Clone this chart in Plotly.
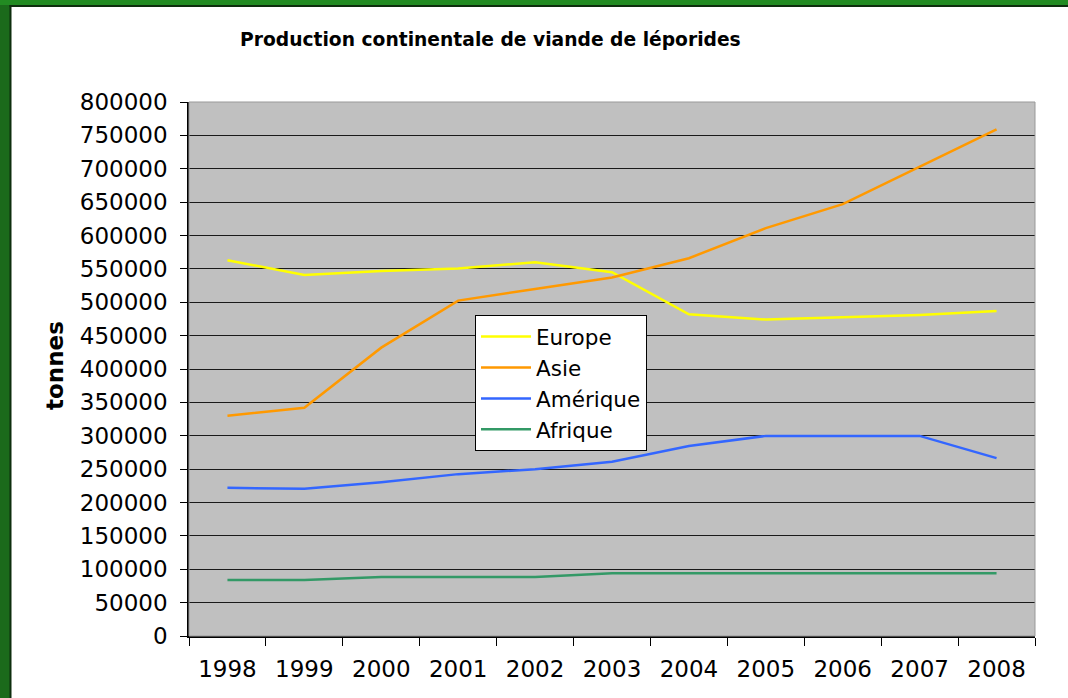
import plotly.graph_objects as go

years = ["1998", "1999", "2000", "2001", "2002", "2003", "2004", "2005", "2006", "2007", "2008"]
europe = [563000, 541000, 547000, 550500, 560000, 545000, 482000, 474000, 477500, 481000, 487000]
asie = [330000, 342000, 432000, 502500, 520000, 537000, 566000, 611000, 647000, 703000, 759000]
amerique = [222000, 220500, 230500, 242500, 250000, 261000, 284500, 299800, 299800, 299800, 266500]
afrique = [84000, 84000, 88500, 88500, 88500, 94000, 94000, 94000, 94000, 94000, 94000]

series = [
    ("Europe", europe, "#FFFF00"),
    ("Asie", asie, "#FF9900"),
    ("Amérique", amerique, "#3366FF"),
    ("Afrique", afrique, "#339966"),
]

W, H = 1068, 698
L, R, T, B = 189, 33, 102, 62
pw, ph = W - L - R, H - T - B

fig = go.Figure()
for name, vals, col in series:
    fig.add_trace(go.Scatter(x=years, y=vals, name=name, mode="lines",
                             line=dict(color=col, width=2.5)))

def px_x(p):
    return (p - L) / pw

def px_y(p):
    return (H - B - p) / ph

font = "DejaVu Sans, Verdana, sans-serif"

shapes = [
    dict(type="rect", xref="paper", yref="paper", x0=0, x1=1, y0=0, y1=1,
         line=dict(color="#999999", width=1), layer="above"),
    dict(type="rect", xref="paper", yref="paper", x0=px_x(-2), x1=px_x(10),
         y0=px_y(H + 2), y1=px_y(-2), fillcolor="#1B6A1B", line=dict(width=0)),
    dict(type="rect", xref="paper", yref="paper", x0=px_x(9.5), x1=px_x(11.5),
         y0=px_y(H + 2), y1=px_y(5), fillcolor="#0E2E0E", line=dict(width=0)),
    dict(type="rect", xref="paper", yref="paper", x0=px_x(-2), x1=px_x(W + 2),
         y0=px_y(5), y1=px_y(-2), fillcolor="#228B22", line=dict(width=0)),
    dict(type="rect", xref="paper", yref="paper", x0=px_x(9.5), x1=px_x(W + 2),
         y0=px_y(7), y1=px_y(5), fillcolor="#0E2E0E", line=dict(width=0)),
]

fig.update_layout(
    width=W, height=H,
    margin=dict(l=L, r=R, t=T, b=B, pad=0),
    paper_bgcolor="white",
    plot_bgcolor="#C0C0C0",
    font=dict(family=font, color="black", size=23),
    showlegend=True,
    legend=dict(x=px_x(475), y=px_y(315), xanchor="left", yanchor="top",
                bgcolor="white", bordercolor="black", borderwidth=1,
                font=dict(size=21.5, family=font), tracegroupgap=0,
                itemwidth=50),
    shapes=shapes,
    annotations=[
        dict(text="<b>Production continentale de viande de léporides</b>",
             xref="paper", yref="paper", x=px_x(490), y=px_y(40),
             xanchor="center", yanchor="middle", showarrow=False,
             font=dict(size=18.7, family=font)),
        dict(text="<b>tonnes</b>", xref="paper", yref="paper",
             x=px_x(55), y=px_y(366), xanchor="center", yanchor="middle",
             textangle=-90, showarrow=False, font=dict(size=23, family=font)),
    ],
)

fig.update_xaxes(
    type="category", range=[-0.5, 10.5], tickson="boundaries",
    ticks="outside", ticklen=8, tickcolor="black", tickwidth=1,
    showline=True, linecolor="black", linewidth=1.5,
    showgrid=False, zeroline=False, ticklabelstandoff=12,
    tickfont=dict(size=23, family=font),
)
fig.update_yaxes(
    range=[0, 800000], dtick=50000, tick0=0, tickformat="d",
    ticks="outside", ticklen=7, tickcolor="black", tickwidth=1,
    showline=True, linecolor="black", linewidth=1.5,
    showgrid=True, gridcolor="#1a1a1a", gridwidth=1,
    zeroline=False, ticklabelstandoff=8,
    tickfont=dict(size=23, family=font),
)

fig.write_html("out.html", config={"displayModeBar": False},
               post_script="document.body.style.margin='0';document.body.style.overflow='hidden';")
